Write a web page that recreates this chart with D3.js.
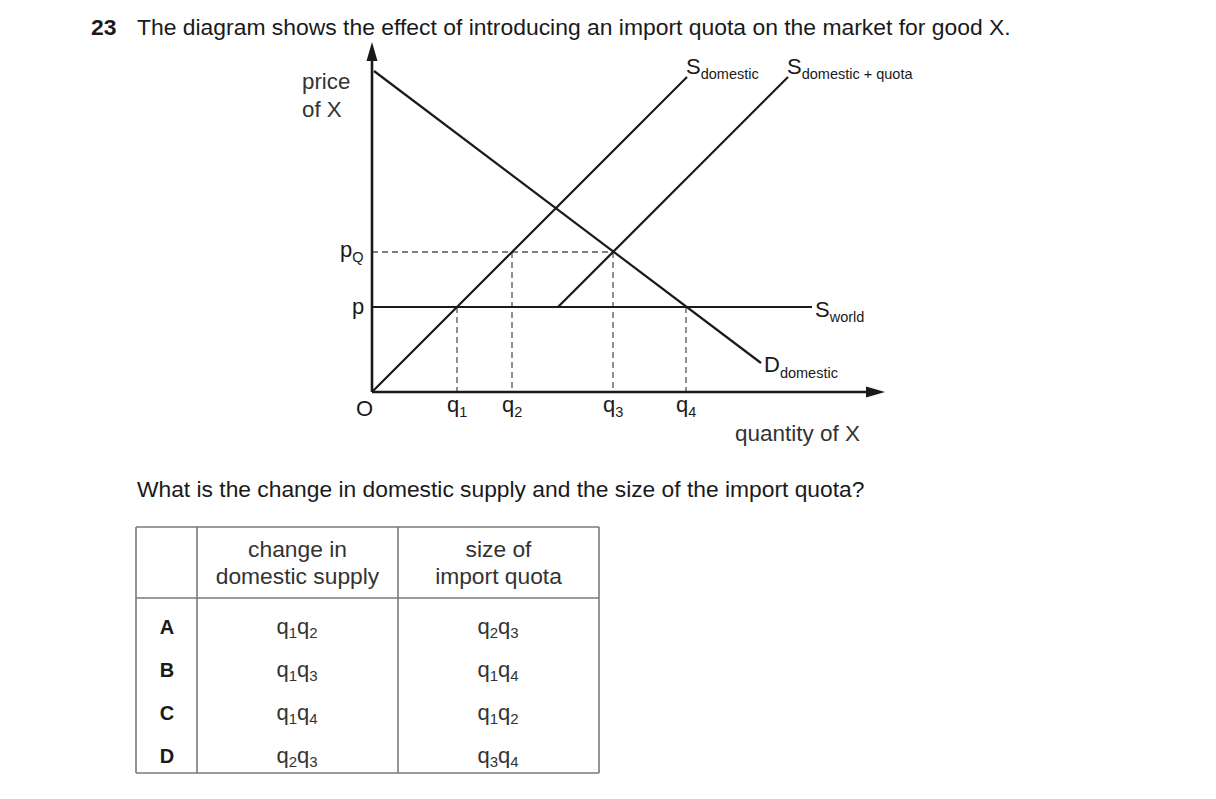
<!DOCTYPE html>
<html><head><meta charset="utf-8">
<script src="https://cdn.jsdelivr.net/npm/d3@7"></script>
<style>
body{margin:0;background:#fff;}
svg{font-family:"Liberation Sans",Arial,sans-serif;}
</style></head>
<body>
<svg id="c" width="1216" height="799"></svg>
<script>
// ---- data (abstract units) ----
const qLevels = [{name:"q", sub:"1", v:85},{name:"q", sub:"2", v:140},{name:"q", sub:"3", v:241},{name:"q", sub:"4", v:314}];
const pLevels = [{name:"p", sub:"", v:85},{name:"p", sub:"Q", v:140}];
const demand = [[2,321],[389,29]];
const sDomestic = [[0,0],[315,315]];
const sDomQuota = [[186,85],[416,315]];
const sWorld = [[0,85],[440,85]];
const tableHeader = [["change in","domestic supply"],["size of","import quota"]];
const options = ["A","B","C","D"];
const changeSupply = [["1","2"],["1","3"],["1","4"],["2","3"]];
const quotaSize = [["2","3"],["1","4"],["1","2"],["3","4"]];

const svg = d3.select("#c");
const ink = "#1a1a1a";
const x = d3.scaleLinear().domain([0,513]).range([372,885]);
const y = d3.scaleLinear().domain([0,350]).range([392,42]);

// title
const t = svg.append("text").attr("x",91).attr("y",35).attr("font-size",22.9).attr("fill",ink);
t.append("tspan").attr("font-weight","bold").text("23");
t.append("tspan").attr("x",137).text("The diagram shows the effect of introducing an import quota on the market for good X.");

// dashed guides
const g = svg.append("g");
pLevels.filter(d=>d.sub==="Q").forEach(d=>{
  g.append("line").attr("x1",x(0)).attr("x2",x(241)).attr("y1",y(d.v)).attr("y2",y(d.v))
   .attr("stroke","#555").attr("stroke-width",1.3).attr("stroke-dasharray","6,4");
});
qLevels.forEach((d,i)=>{
  const top = (i===1||i===2) ? 140 : 85;
  g.append("line").attr("x1",x(d.v)).attr("x2",x(d.v)).attr("y1",y(top)).attr("y2",y(0))
   .attr("stroke","#555").attr("stroke-width",1.3).attr("stroke-dasharray","6,4");
});

// curves
const line = d3.line().x(d=>x(d[0])).y(d=>y(d[1]));
[demand,sDomestic,sDomQuota,sWorld].forEach(d=>{
  g.append("path").attr("d",line(d)).attr("fill","none").attr("stroke",ink).attr("stroke-width",2.2);
});

// axes
g.append("line").attr("x1",x(0)).attr("x2",x(500)).attr("y1",y(0)).attr("y2",y(0)).attr("stroke",ink).attr("stroke-width",2.6);
g.append("line").attr("x1",x(0)).attr("x2",x(0)).attr("y1",y(0)).attr("y2",y(337)).attr("stroke",ink).attr("stroke-width",2.6);
g.append("path").attr("d",`M${x(513)},${y(0)} L${x(494)},${y(0)-5.5} L${x(494)},${y(0)+5.5}Z`).attr("fill",ink);
g.append("path").attr("d",`M${x(0)},${y(350)} L${x(0)-5.5},${y(331)} L${x(0)+5.5},${y(331)}Z`).attr("fill",ink);

const lab = (px,py,main,sub,fs,ss,dy,anchor)=>{
  const tt = svg.append("text").attr("x",px).attr("y",py).attr("font-size",fs).attr("fill",ink).attr("text-anchor",anchor||"start");
  tt.append("tspan").text(main);
  if(sub) tt.append("tspan").attr("font-size",ss).attr("dy",dy).text(sub);
  return tt;
};
// axis labels
svg.append("text").attr("x",302).attr("y",89).attr("font-size",22.3).attr("fill","#333").text("price");
svg.append("text").attr("x",302).attr("y",117).attr("font-size",22.3).attr("fill","#333").text("of X");
svg.append("text").attr("x",735).attr("y",441).attr("font-size",22.5).attr("fill","#333").text("quantity of X");
lab(356,416,"O","",22,0,0);
pLevels.forEach(d=>{
  if(d.sub) lab(340,y(d.v)+5,d.name,d.sub,22,14.5,5);
  else lab(352,y(d.v)+7,d.name,"",22,0,0);
});
qLevels.forEach(d=>{
  lab(x(d.v)-10,412,d.name,d.sub,22,14.5,5);
});
// curve labels
lab(686,74,"S","domestic",22,14.5,5);
lab(787,74,"S","domestic + quota",22,14.5,5);
lab(815,317,"S","world",22,14.5,5);
lab(764,372,"D","domestic",22,14.5,6);

// question
svg.append("text").attr("x",137).attr("y",497).attr("font-size",22.8).attr("fill",ink)
  .text("What is the change in domestic supply and the size of the import quota?");

// table
const cols = [136,197,398,599];
const rows = [527,598,773];
const tg = svg.append("g").attr("stroke","#7a7a7a").attr("stroke-width",1.6);
cols.forEach(c=>tg.append("line").attr("x1",c).attr("x2",c).attr("y1",rows[0]).attr("y2",rows[2]));
rows.forEach(r=>tg.append("line").attr("x1",cols[0]).attr("x2",cols[3]).attr("y1",r).attr("y2",r));
tableHeader.forEach((h,i)=>{
  const cx = (cols[i+1]+cols[i+2])/2;
  h.forEach((s,j)=>svg.append("text").attr("x",cx).attr("y",557+j*27).attr("text-anchor","middle")
    .attr("font-size",22.8).attr("fill","#333").text(s));
});
const qq = (cx,cy,pair)=>{
  const tt = svg.append("text").attr("x",cx).attr("y",cy).attr("font-size",22).attr("fill","#333").attr("text-anchor","middle");
  tt.append("tspan").text("q");
  tt.append("tspan").attr("font-size",15).attr("dy",4).text(pair[0]);
  tt.append("tspan").attr("dy",-4).text("q");
  tt.append("tspan").attr("font-size",15).attr("dy",4).text(pair[1]);
};
options.forEach((o,i)=>{
  const cy = 634+i*43;
  svg.append("text").attr("x",167).attr("y",cy).attr("text-anchor","middle").attr("font-size",20)
    .attr("font-weight","bold").attr("fill",ink).text(o);
  qq(297,cy,changeSupply[i]);
  qq(498,cy,quotaSize[i]);
});
</script>
</body></html>
